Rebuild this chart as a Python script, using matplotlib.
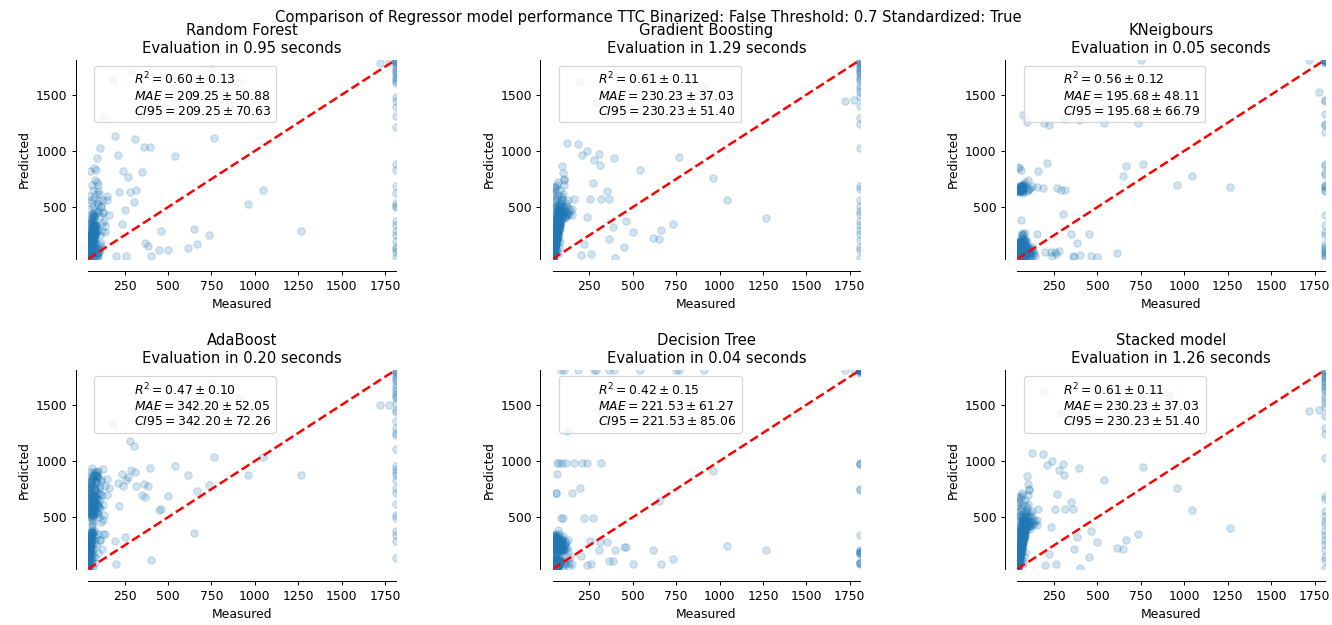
"""
Regressor comparison: measured vs predicted TTC for six models.
Each panel: scatter of predictions, identity line, CV scores in the legend.
"""

import matplotlib
matplotlib.use("Agg")
import numpy as np
import matplotlib.pyplot as plt

# ---------- measured TTC (same test targets for every model) ----------
measured = [
    # very short TTC, the bulk of the samples
    40, 41, 42, 43, 44, 45, 46, 47, 48, 49,
    50, 51, 52, 53, 54, 55, 56, 57, 58, 59,
    40, 42, 44, 46, 48, 50, 52, 54, 56, 58,
    60, 62, 64, 66, 68, 70, 72, 74, 41, 43,
    45, 47, 49, 51, 53, 55, 57, 59, 61, 63,
    40, 43, 46, 49, 52, 55, 58, 61, 64, 67,
    70, 73, 44, 48, 52, 56, 60, 64, 68, 72,
    41, 45, 50, 54, 58, 62, 66, 70, 47, 53,
    40, 44, 48, 52, 56, 60, 64, 68, 72, 76,
    80, 84, 88, 92, 96, 100, 104, 108, 42, 46,
    50, 54, 58, 62, 66, 70, 74, 78, 82, 86,
    90, 94, 98, 102, 106, 110, 41, 45, 49, 53,
    57, 61, 65, 69, 73, 77, 81, 85, 89, 93,
    43, 47, 51, 55, 59, 63, 67, 71, 75, 79,
    # short TTC
    40, 42, 45, 48, 50, 52, 55, 58, 60, 62,
    64, 66, 68, 70, 72, 74, 76, 78, 80, 82,
    41, 44, 47, 51, 54, 57, 61, 65, 69, 73,
    43, 46, 49, 53, 56, 59, 63, 67, 71, 75,
    84, 86, 88, 90, 92, 95, 98, 100, 103, 106,
    40, 45, 50, 55, 60, 65, 70, 75, 80, 85,
    42, 48, 54, 60, 66, 72, 78, 84, 90, 96,
    108, 110, 112, 115, 118, 120, 124, 128, 132, 136,
    44, 52, 58, 62, 68, 74, 82, 88, 94, 100,
    46, 56, 64, 76, 86, 104, 116, 126, 140, 150,
    # spread-out middle values
    125, 150, 160, 185, 195, 200, 210, 220, 235, 240,
    255, 260, 270, 280, 290, 305, 310, 315, 350, 362,
    365, 385, 395, 400, 450, 462, 500, 540, 615, 650,
    665, 735, 750, 765, 910, 960, 1045, 1265, 1720, 1775,
    # capped at the maximum
    1810, 1810, 1810, 1810, 1810, 1810, 1810, 1810, 1810, 1810,
    1810, 1810, 1810, 1810, 1810, 1810, 1810, 1810, 1810, 1810,
    1810, 1810, 1810, 1810, 1810, 1810, 1810, 1810, 1810, 1810,
    1810, 1810, 1810, 1810, 1810,
]

# ---------- predictions per model ----------
pred_rf = [
    40, 55, 70, 85, 100, 115, 130, 145, 160, 175,
    190, 205, 220, 235, 250, 60, 80, 100, 120, 140,
    45, 65, 90, 110, 135, 155, 180, 200, 225, 245,
    270, 290, 310, 330, 350, 370, 390, 410, 50, 75,
    95, 125, 150, 170, 195, 215, 240, 260, 280, 300,
    42, 58, 78, 98, 118, 138, 158, 178, 198, 218,
    238, 258, 320, 340, 360, 380, 400, 430, 450, 420,
    48, 68, 88, 108, 128, 148, 168, 188, 208, 228,
    50, 70, 90, 110, 130, 150, 170, 190, 210, 230,
    250, 270, 290, 310, 60, 80, 100, 120, 140, 160,
    180, 200, 220, 240, 260, 280, 300, 320, 340, 45,
    65, 85, 105, 125, 145, 165, 185, 205, 225, 245,
    265, 285, 305, 325, 345, 55, 75, 95, 115, 135,
    155, 175, 195, 215, 235, 255, 275, 295, 315, 335,
    45, 60, 80, 110, 130, 150, 70, 95, 120, 180,
    200, 90, 140, 60, 250, 170, 110, 300, 220, 150,
    55, 75, 100, 125, 160, 190, 230, 280, 320, 260,
    65, 85, 115, 145, 175, 210, 240, 350, 390, 420,
    180, 260, 330, 450, 940, 520, 300, 470, 560, 1027,
    50, 70, 90, 105, 135, 165, 195, 225, 270, 340,
    120, 310, 360, 440, 500, 580, 470, 620, 540, 700,
    250, 420, 180, 510, 360, 290, 560, 450, 380, 330,
    600, 820, 560, 700, 650, 850, 740, 830, 720, 640,
    480, 400, 540, 430, 350, 620, 500, 460, 280, 600,
    1300, 560, 430, 1634, 1137, 65, 964, 631, 348, 818,
    476, 65, 765, 637, 1702, 542, 1107, 652, 810, 1033,
    185, 155, 1039, 65, 119, 286, 119, 952, 137, 304,
    170, 256, 1732, 1113, 1613, 530, 652, 286, 1783, 1790,
    1810, 1800, 1790, 1780, 1760, 1740, 1720, 1700, 1680, 1660,
    1640, 1620, 1600, 1480, 1440, 1390, 1310, 1210, 880, 830,
    690, 630, 540, 510, 500, 380, 340, 290, 250, 200,
    150, 130, 100, 60, 1810,
]

pred_gb = [
    40, 60, 80, 100, 120, 140, 160, 180, 200, 220,
    240, 260, 280, 300, 320, 340, 360, 380, 400, 420,
    50, 75, 105, 135, 165, 195, 225, 255, 285, 315,
    345, 375, 405, 435, 465, 495, 455, 425, 55, 85,
    115, 145, 175, 205, 235, 265, 295, 325, 355, 385,
    45, 70, 95, 125, 155, 185, 215, 245, 275, 305,
    335, 365, 395, 430, 470, 510, 480, 440, 410, 380,
    65, 90, 110, 150, 190, 230, 270, 310, 350, 390,
    50, 80, 110, 140, 170, 200, 230, 260, 290, 320,
    350, 380, 410, 440, 470, 500, 460, 420, 60, 90,
    120, 150, 180, 210, 240, 270, 300, 330, 360, 390,
    420, 450, 480, 510, 440, 400, 45, 75, 105, 135,
    165, 195, 225, 255, 285, 315, 345, 375, 405, 435,
    70, 100, 130, 160, 190, 220, 250, 280, 310, 340,
    45, 70, 100, 140, 180, 220, 90, 130, 160, 260,
    300, 120, 200, 80, 350, 240, 150, 420, 310, 190,
    60, 95, 130, 170, 210, 250, 290, 340, 380, 450,
    75, 110, 150, 190, 230, 270, 320, 400, 470, 500,
    330, 430, 480, 520, 460, 560, 400, 620, 700, 740,
    550, 600, 640, 680, 230, 280, 520, 360, 440, 480,
    160, 380, 420, 560, 470, 610, 500, 650, 540, 580,
    420, 460, 500, 540, 470, 430, 510, 450, 480, 440,
    620, 500, 660, 580, 720, 540, 450, 600, 870, 800,
    680, 520, 700, 460, 560, 750, 420, 560, 470, 430,
    1068, 480, 571, 1062, 1613, 74, 967, 170, 414, 1003,
    577, 80, 711, 920, 1426, 970, 875, 577, 640, 571,
    214, 324, 937, 45, 149, 378, 280, 830, 229, 220,
    295, 348, 1560, 946, 1577, 759, 563, 402, 1446, 1455,
    1810, 1800, 1790, 1775, 1760, 1745, 1730, 1715, 1700, 1680,
    1660, 1640, 1620, 1580, 1550, 1520, 1480, 1400, 1290, 1240,
    1030, 690, 660, 560, 510, 470, 440, 380, 340, 300,
    260, 210, 150, 120, 45,
]

pred_knn = [
    40, 50, 60, 70, 80, 90, 100, 110, 120, 130,
    140, 150, 160, 170, 180, 190, 200, 45, 55, 65,
    75, 85, 95, 105, 115, 125, 135, 145, 155, 165,
    175, 185, 640, 650, 660, 670, 680, 645, 655, 665,
    42, 52, 62, 72, 82, 92, 102, 112, 122, 132,
    142, 152, 162, 172, 182, 192, 210, 230, 250, 270,
    630, 640, 650, 660, 670, 680, 690, 700, 48, 58,
    68, 78, 88, 98, 108, 118, 128, 138, 148, 158,
    45, 60, 75, 90, 105, 120, 135, 150, 165, 180,
    195, 55, 70, 85, 100, 115, 130, 145, 160, 175,
    190, 50, 65, 80, 95, 110, 125, 140, 155, 170,
    185, 200, 640, 650, 660, 670, 680, 690, 645, 655,
    665, 675, 42, 58, 72, 88, 102, 118, 132, 148,
    162, 178, 192, 48, 62, 78, 92, 108, 122, 138,
    45, 60, 80, 100, 120, 140, 70, 90, 110, 160,
    180, 50, 130, 75, 200, 95, 150, 60, 110, 85,
    640, 650, 660, 670, 640, 655, 645, 680, 700, 690,
    55, 65, 85, 105, 125, 145, 170, 190, 230, 260,
    100, 70, 130, 60, 90, 110, 80, 150, 120, 60,
    640, 660, 635, 650, 670, 660, 690, 700, 710, 720,
    50, 70, 90, 115, 140, 165, 195, 220, 75, 55,
    80, 60, 110, 90, 130, 70, 150, 100, 120, 85,
    860, 850, 384, 830, 250, 1324, 270, 680, 1256, 740,
    60, 100, 140, 80, 200, 120, 90, 70, 65, 680,
    690, 259, 824, 670, 1250, 100, 890, 1232, 104, 70,
    100, 80, 670, 110, 652, 443, 1286, 652, 259, 65,
    60, 180, 1271, 71, 259, 65, 60, 1250, 95, 780,
    869, 1250, 1805, 884, 1345, 696, 780, 676, 1805, 1524,
    1810, 1810, 1800, 1790, 1810, 1780, 1455, 1440, 1330, 1240,
    1230, 1170, 880, 870, 800, 790, 700, 690, 680, 650,
    640, 430, 340, 280, 250, 170, 150, 130, 110, 100,
    80, 70, 60, 1810, 1800,
]

pred_ada = [
    40, 70, 100, 130, 160, 190, 220, 250, 280, 310,
    340, 370, 500, 530, 560, 590, 620, 650, 680, 710,
    50, 85, 115, 145, 175, 205, 235, 265, 295, 325,
    355, 385, 510, 540, 570, 600, 630, 660, 690, 720,
    750, 780, 810, 840, 870, 900, 60, 95, 125, 155,
    185, 215, 245, 275, 305, 335, 365, 520, 550, 580,
    610, 640, 670, 700, 730, 760, 790, 820, 850, 880,
    45, 110, 170, 230, 290, 350, 530, 575, 615, 655,
    60, 120, 180, 240, 300, 360, 520, 580, 640, 700,
    760, 820, 880, 540, 600, 660, 720, 780, 80, 140,
    200, 260, 320, 420, 460, 560, 620, 680, 740, 800,
    860, 900, 530, 590, 650, 710, 50, 110, 170, 230,
    290, 440, 480, 570, 630, 690, 750, 810, 870, 620,
    70, 130, 190, 250, 310, 370, 550, 610, 670, 730,
    45, 80, 120, 160, 200, 240, 280, 320, 360, 100,
    140, 60, 180, 220, 260, 300, 340, 380, 90, 150,
    520, 540, 560, 580, 600, 620, 640, 660, 680, 700,
    720, 740, 760, 780, 800, 820, 840, 860, 880, 900,
    320, 560, 250, 620, 720, 180, 850, 350, 500, 300,
    50, 70, 130, 190, 250, 310, 370, 530, 590, 650,
    560, 600, 640, 700, 760, 820, 880, 900, 540, 600,
    580, 300, 840, 460, 220, 700, 350, 610, 520, 780,
    110, 200, 330, 940, 500, 580, 620, 660, 880, 910,
    90, 230, 370, 550, 680, 760, 820, 480, 350, 700,
    930, 840, 760, 1330, 289, 83, 804, 601, 884, 774,
    327, 833, 860, 1176, 923, 1137, 902, 780, 700, 798,
    676, 780, 934, 119, 565, 571, 690, 958, 878, 363,
    735, 789, 1702, 1033, 1560, 872, 1033, 878, 1494, 1494,
    1810, 1790, 1770, 1750, 1730, 1710, 1680, 1650, 1620, 1600,
    1580, 1560, 1520, 1450, 1440, 1360, 1290, 1250, 1230, 1110,
    960, 930, 900, 880, 830, 760, 720, 620, 520, 490,
    380, 340, 290, 140, 1800,
]

pred_dt = [
    45, 55, 65, 75, 85, 95, 105, 115, 125, 50,
    60, 70, 80, 90, 100, 110, 120, 130, 180, 195,
    210, 225, 240, 255, 270, 285, 300, 315, 330, 190,
    205, 220, 235, 250, 265, 280, 295, 310, 325, 48,
    58, 68, 78, 88, 98, 108, 118, 128, 185, 200,
    215, 230, 245, 260, 275, 290, 305, 320, 52, 62,
    72, 82, 92, 102, 112, 122, 182, 212, 242, 272,
    302, 332, 42, 57, 67, 77, 87, 97, 107, 117,
    50, 70, 90, 110, 130, 60, 80, 100, 120, 200,
    230, 260, 290, 320, 190, 220, 250, 280, 310, 340,
    55, 75, 95, 115, 65, 85, 105, 125, 210, 240,
    270, 300, 330, 195, 225, 255, 285, 315, 45, 60,
    80, 100, 120, 70, 90, 110, 205, 235, 265, 295,
    325, 185, 215, 245, 275, 305, 50, 85, 105, 125,
    60, 80, 100, 120, 60, 80, 100, 120, 60, 80,
    100, 120, 60, 80, 100, 120, 60, 80, 100, 120,
    220, 250, 280, 300, 330, 220, 250, 280, 300, 330,
    240, 270, 290, 320, 350, 240, 270, 290, 320, 350,
    80, 220, 100, 280, 60, 300, 120, 250, 80, 210,
    70, 90, 110, 70, 90, 110, 70, 90, 110, 200,
    260, 310, 340, 230, 280, 300, 260, 310, 240, 220,
    100, 210, 250, 80, 280, 130, 230, 300, 60, 90,
    150, 300, 720, 884, 390, 980, 200, 490, 980, 490,
    60, 720, 980, 290, 1810, 1810, 980, 200, 150, 80,
    1265, 720, 980, 1810, 759, 155, 980, 490, 980, 74,
    289, 80, 490, 1810, 1810, 208, 283, 980, 283, 110,
    1810, 110, 1810, 208, 238, 238, 80, 1810, 208, 646,
    80, 125, 1810, 1810, 1810, 914, 244, 208, 1810, 1810,
    1810, 1810, 1810, 1810, 1810, 1810, 1810, 1810, 1810, 1810,
    1810, 1810, 1810, 1810, 1790, 1780, 980, 975, 970, 750,
    745, 340, 210, 200, 190, 185, 180, 170, 100, 95,
    90, 80, 1800, 1810, 1810,
]

pred_stack = [
    40, 60, 80, 100, 120, 140, 160, 180, 200, 220,
    240, 260, 280, 300, 320, 340, 360, 380, 400, 420,
    50, 75, 105, 135, 165, 195, 225, 255, 285, 315,
    345, 375, 405, 435, 465, 495, 455, 425, 55, 85,
    115, 145, 175, 205, 235, 265, 295, 325, 355, 385,
    45, 70, 95, 125, 155, 185, 215, 245, 275, 305,
    335, 365, 395, 430, 470, 510, 480, 440, 410, 380,
    65, 90, 110, 150, 190, 230, 270, 310, 350, 390,
    50, 80, 110, 140, 170, 200, 230, 260, 290, 320,
    350, 380, 410, 440, 470, 500, 460, 420, 60, 90,
    120, 150, 180, 210, 240, 270, 300, 330, 360, 390,
    420, 450, 480, 510, 440, 400, 45, 75, 105, 135,
    165, 195, 225, 255, 285, 315, 345, 375, 405, 435,
    70, 100, 130, 160, 190, 220, 250, 280, 310, 340,
    45, 70, 100, 140, 180, 220, 90, 130, 160, 260,
    300, 120, 200, 80, 350, 240, 150, 420, 310, 190,
    60, 95, 130, 170, 210, 250, 290, 340, 380, 450,
    75, 110, 150, 190, 230, 270, 320, 400, 470, 500,
    330, 430, 480, 520, 460, 560, 400, 620, 700, 740,
    550, 600, 640, 680, 230, 280, 520, 360, 440, 480,
    160, 380, 420, 560, 470, 610, 500, 650, 540, 580,
    420, 460, 500, 540, 470, 430, 510, 450, 480, 440,
    620, 500, 660, 580, 720, 540, 450, 600, 870, 800,
    680, 520, 700, 460, 560, 750, 420, 560, 470, 430,
    1070, 480, 571, 1060, 1613, 74, 967, 170, 414, 1003,
    577, 80, 711, 920, 1426, 970, 875, 577, 640, 571,
    214, 324, 937, 45, 149, 378, 280, 830, 229, 220,
    295, 348, 1560, 946, 1577, 759, 563, 402, 1446, 1455,
    1810, 1800, 1790, 1775, 1760, 1745, 1730, 1715, 1700, 1680,
    1660, 1640, 1620, 1580, 1550, 1520, 1480, 1400, 1290, 1240,
    1030, 690, 660, 560, 510, 470, 440, 380, 340, 300,
    260, 210, 150, 120, 45,
]

# ---------- names, timings and CV scores ----------
model_names = ["Random Forest", "Gradient Boosting", "KNeigbours",
               "AdaBoost", "Decision Tree", "Stacked model"]
eval_seconds = [0.95, 1.29, 0.05, 0.20, 0.04, 1.26]
r2_mean = [0.60, 0.61, 0.56, 0.47, 0.42, 0.61]
r2_std = [0.13, 0.11, 0.12, 0.10, 0.15, 0.11]
mae_mean = [209.25, 230.23, 195.68, 342.20, 221.53, 230.23]
mae_std = [50.88, 37.03, 48.11, 52.05, 61.27, 37.03]
ci95 = [70.63, 51.40, 66.79, 72.26, 85.06, 51.40]

x_ticks = [250, 500, 750, 1000, 1250, 1500, 1750]
y_ticks = [500, 1000, 1500]

predictions = [pred_rf, pred_gb, pred_knn, pred_ada, pred_dt, pred_stack]


def plot_regression_results(ax, y_true, y_pred, title, scores, elapsed_time):
    """Scatter plot of the predicted vs true targets."""
    lo, hi = y_true.min(), y_true.max()
    ax.plot([lo, hi], [lo, hi], "--r", linewidth=2)
    ax.scatter(y_true, y_pred, alpha=0.2)

    ax.spines["top"].set_visible(False)
    ax.spines["right"].set_visible(False)
    ax.get_xaxis().tick_bottom()
    ax.get_yaxis().tick_left()
    ax.spines["left"].set_position(("outward", 10))
    ax.spines["bottom"].set_position(("outward", 10))
    ax.set_xticks(x_ticks)
    ax.set_yticks(y_ticks)
    ax.set_xlim([lo, hi])
    ax.set_ylim([lo, hi])
    ax.set_xlabel("Measured")
    ax.set_ylabel("Predicted")
    extra = plt.Rectangle((0, 0), 0, 0, fc="w", fill=False,
                          edgecolor="none", linewidth=0)
    ax.legend([extra], [scores], loc="upper left")
    ax.set_title(title + "\nEvaluation in {:.2f} seconds".format(elapsed_time))


DPI = 88.8
fig, axs = plt.subplots(2, 3, figsize=(15, 7.04), dpi=DPI)
fig.subplots_adjust(left=0.0661, right=0.9947, bottom=0.0896, top=0.904,
                    wspace=0.511, hspace=0.558)

y_true = np.array(measured)
for i, ax in enumerate(axs.flat):
    scores = (r"$R^2={:.2f} \pm {:.2f}$".format(r2_mean[i], r2_std[i]) + "\n"
              + r"$MAE={:.2f} \pm {:.2f}$".format(mae_mean[i], mae_std[i]) + "\n"
              + r"$CI95={:.2f} \pm {:.2f}$".format(mae_mean[i], ci95[i]))
    plot_regression_results(ax, y_true, np.array(predictions[i]),
                            model_names[i], scores, eval_seconds[i])

fig.suptitle("Comparison of Regressor model performance TTC Binarized: False "
             "Threshold: 0.7 Standardized: True", x=0.4865, y=0.984, va="top")

fig.savefig("out.png", dpi=DPI)
